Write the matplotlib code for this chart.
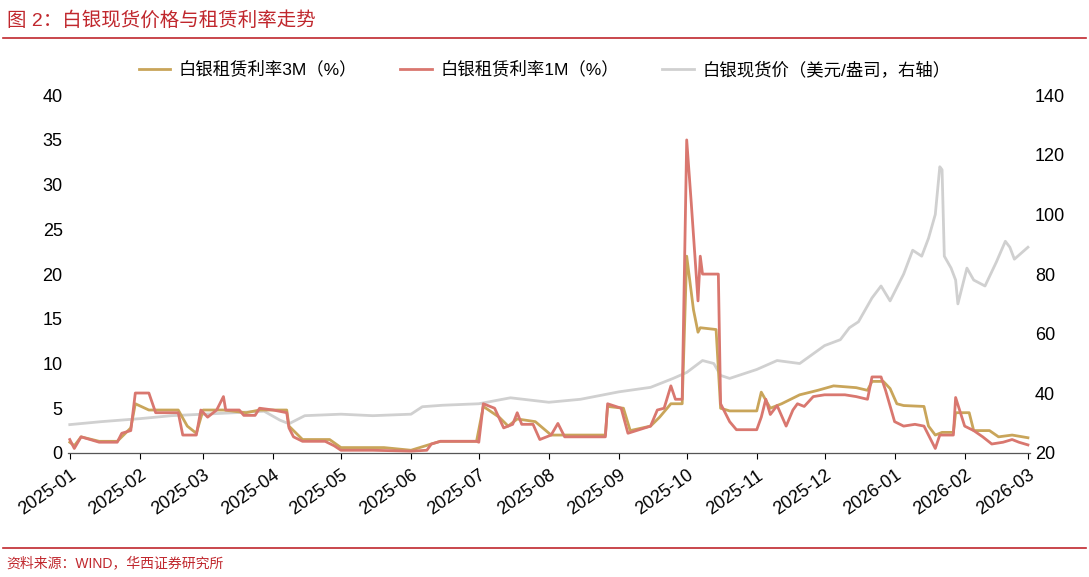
import matplotlib
matplotlib.use("Agg")
import matplotlib.pyplot as plt
import matplotlib.dates as mdates
import pandas as pd

plt.rcParams['font.family'] = ['Liberation Sans', 'Noto Sans CJK SC', 'DejaVu Sans']

r1m_dates = ["2025-01-01","2025-01-03","2025-01-06","2025-01-10","2025-01-14","2025-01-22","2025-01-24","2025-01-28","2025-01-30","2025-02-05","2025-02-08","2025-02-18","2025-02-20","2025-02-26","2025-02-28","2025-03-03","2025-03-07","2025-03-10","2025-03-11","2025-03-17","2025-03-19","2025-03-24","2025-03-26","2025-04-01","2025-04-07","2025-04-08","2025-04-10","2025-04-14","2025-04-24","2025-04-28","2025-05-01","2025-05-15","2025-06-01","2025-06-08","2025-06-10","2025-06-14","2025-06-30","2025-07-01","2025-07-03","2025-07-08","2025-07-12","2025-07-16","2025-07-18","2025-07-20","2025-07-25","2025-07-28","2025-08-02","2025-08-05","2025-08-08","2025-08-26","2025-08-27","2025-09-02","2025-09-05","2025-09-10","2025-09-15","2025-09-18","2025-09-21","2025-09-24","2025-09-26","2025-09-29","2025-10-01","2025-10-03","2025-10-06","2025-10-07","2025-10-08","2025-10-15","2025-10-16","2025-10-20","2025-10-23","2025-11-01","2025-11-03","2025-11-05","2025-11-07","2025-11-10","2025-11-14","2025-11-17","2025-11-19","2025-11-22","2025-11-26","2025-12-01","2025-12-10","2025-12-15","2025-12-20","2025-12-22","2025-12-26","2025-12-28","2026-01-01","2026-01-05","2026-01-10","2026-01-14","2026-01-16","2026-01-19","2026-01-21","2026-01-27","2026-01-28","2026-02-01","2026-02-05","2026-02-09","2026-02-13","2026-02-18","2026-02-22","2026-02-25","2026-03-01"]
r1m_vals = [1.5,0.5,1.8,1.5,1.2,1.2,2.2,2.5,6.7,6.7,4.5,4.5,2.0,2.0,4.8,4.0,4.8,6.3,4.8,4.8,4.2,4.2,5.0,4.8,4.5,2.8,1.8,1.3,1.3,0.8,0.3,0.3,0.2,0.3,1.0,1.3,1.3,1.2,5.5,5.0,2.8,3.2,4.5,3.2,3.2,1.5,2.0,3.3,1.8,1.8,5.5,5.0,2.2,2.6,3.0,4.8,5.0,7.5,6.0,6.0,35,28,17,22,20,20,5.5,3.5,2.6,2.6,4.0,6.0,4.3,5.3,3.0,4.8,5.5,5.2,6.3,6.5,6.5,6.3,6.0,8.5,8.5,7.0,3.5,3.0,3.2,3.0,2.0,0.5,2.0,2.0,6.2,3.0,2.5,1.8,1.0,1.2,1.5,1.2,0.9]

r3m_dates = ["2025-01-01","2025-01-03","2025-01-06","2025-01-14","2025-01-22","2025-01-28","2025-01-30","2025-02-05","2025-02-18","2025-02-22","2025-02-26","2025-03-01","2025-03-10","2025-03-20","2025-03-26","2025-04-07","2025-04-08","2025-04-14","2025-04-26","2025-05-01","2025-05-20","2025-06-01","2025-06-10","2025-06-14","2025-06-30","2025-07-03","2025-07-10","2025-07-14","2025-07-18","2025-07-26","2025-08-02","2025-08-08","2025-08-26","2025-08-27","2025-09-03","2025-09-06","2025-09-15","2025-09-19","2025-09-24","2025-09-29","2025-10-01","2025-10-04","2025-10-06","2025-10-07","2025-10-14","2025-10-16","2025-10-20","2025-11-01","2025-11-03","2025-11-07","2025-11-12","2025-11-20","2025-11-28","2025-12-05","2025-12-15","2025-12-20","2025-12-22","2025-12-27","2025-12-30","2026-01-02","2026-01-05","2026-01-14","2026-01-16","2026-01-19","2026-01-22","2026-01-27","2026-01-28","2026-02-03","2026-02-05","2026-02-12","2026-02-16","2026-02-22","2026-03-01"]
r3m_vals = [1.2,0.8,1.8,1.3,1.3,2.8,5.5,4.8,4.8,3.0,2.2,4.8,4.8,4.5,4.8,4.8,3.0,1.5,1.5,0.6,0.6,0.3,1.0,1.3,1.3,5.2,4.0,3.0,3.8,3.5,2.0,2.0,2.0,5.2,5.0,2.5,3.0,4.0,5.5,5.5,22,16,13.5,14,13.8,5.0,4.7,4.7,6.8,5.0,5.5,6.5,7.0,7.5,7.3,7.0,8.0,8.0,7.2,5.5,5.3,5.2,3.0,2.0,2.3,2.3,4.5,4.5,2.5,2.5,1.8,2.0,1.7]

ag_dates = ["2025-01-01","2025-01-15","2025-02-01","2025-02-15","2025-03-01","2025-03-15","2025-03-28","2025-04-04","2025-04-08","2025-04-15","2025-05-01","2025-05-15","2025-06-01","2025-06-06","2025-06-15","2025-07-01","2025-07-15","2025-08-01","2025-08-15","2025-09-01","2025-09-15","2025-09-25","2025-10-01","2025-10-08","2025-10-13","2025-10-16","2025-10-20","2025-11-01","2025-11-10","2025-11-20","2025-12-01","2025-12-08","2025-12-12","2025-12-16","2025-12-22","2025-12-26","2025-12-30","2026-01-05","2026-01-09","2026-01-13","2026-01-16","2026-01-19","2026-01-21","2026-01-22","2026-01-23","2026-01-26","2026-01-28","2026-01-29","2026-02-02","2026-02-05","2026-02-10","2026-02-15","2026-02-19","2026-02-21","2026-02-23","2026-03-01"]
ag_vals = [29.5,30.5,31.5,32.5,33,33.5,34,31,29.8,32.5,33,32.5,33,35.5,36,36.5,38.5,37,38,40.5,42,45,47,51,50,46,45,48,51,50,56,58,62,64,72,76,71,80,88,86,92,100,116,115,86,82,78,70,82,78,76,84,91,89,85,89]

d1 = pd.to_datetime(r1m_dates); d3 = pd.to_datetime(r3m_dates); da = pd.to_datetime(ag_dates)
c3, c1, cg = "#C9A55A", "#D9776F", "#D0D0D0"

fig = plt.figure(figsize=(10.89, 5.77), dpi=100)
ax = fig.add_axes([0.062, 0.215, 0.884, 0.62])
ax2 = ax.twinx()
ax2.plot(da, ag_vals, color=cg, lw=2, label="白银现货价（美元/盎司，右轴）")
ax.plot(d3, r3m_vals, color=c3, lw=2, label="白银租赁利率3M（%）")
ax.plot(d1, r1m_vals, color=c1, lw=2, label="白银租赁利率1M（%）")
ax.set_zorder(ax2.get_zorder() + 1); ax.patch.set_visible(False)
ax.set_ylim(0, 40); ax.set_yticks(range(0, 41, 5))
ax2.set_ylim(20, 140); ax2.set_yticks(range(20, 141, 20))
ax.set_xlim(pd.Timestamp("2024-12-31"), pd.Timestamp("2026-03-02"))
ax.xaxis.set_major_locator(mdates.MonthLocator())
ax.xaxis.set_major_formatter(mdates.DateFormatter("%Y-%m"))
for lab in ax.get_xticklabels():
    lab.set_rotation(35); lab.set_ha("right"); lab.set_rotation_mode("anchor")
for a in (ax, ax2):
    for s in ("top", "right", "left"):
        a.spines[s].set_visible(False)
    a.tick_params(labelsize=13, length=0)
ax.spines["bottom"].set_color("#555555")
ax.tick_params(axis="x", length=4, direction="out", pad=6)
h1, l1 = ax.get_legend_handles_labels(); h2, l2 = ax2.get_legend_handles_labels()
fig.legend(h1 + h2, l1 + l2, loc="center", bbox_to_anchor=(0.5, 0.88), ncol=3, frameon=False, fontsize=12.5, columnspacing=2.5, handlelength=1.8, handletextpad=0.5)
fig.text(0.006, 0.965, "图 2：白银现货价格与租赁利率走势", color="#C0272D", fontsize=14, va="center")
fig.add_artist(plt.Line2D([0.003, 0.997], [0.934, 0.934], color="#C0272D", lw=1.2))
fig.add_artist(plt.Line2D([0.003, 0.997], [0.05, 0.05], color="#C0272D", lw=1.2))
fig.text(0.006, 0.024, "资料来源：WIND，华西证券研究所", color="#C0272D", fontsize=10, va="center")
fig.savefig("out.png", dpi=100)
